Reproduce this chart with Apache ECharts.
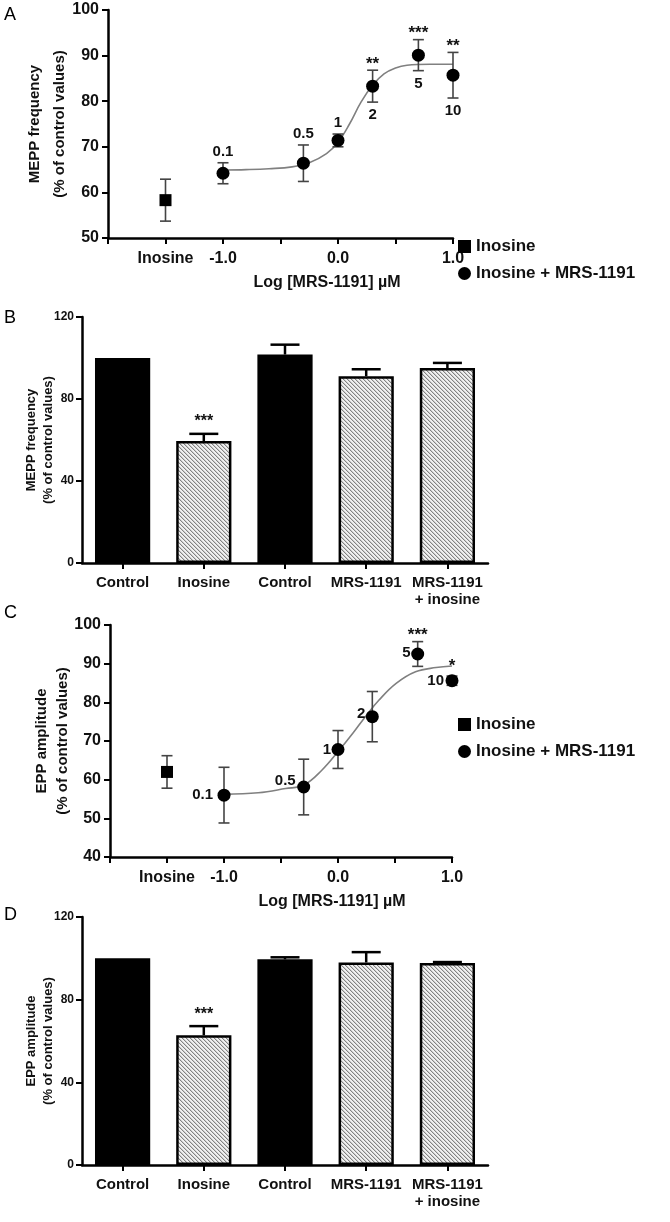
<!DOCTYPE html>
<html><head><meta charset="utf-8">
<script src="https://cdn.jsdelivr.net/npm/echarts@6/dist/echarts.min.js"></script>
<style>html,body{margin:0;padding:0;background:#fff}#c{width:670px;height:1222px}</style>
</head><body><div id="c"></div>
<script>
// ---------- DATA ----------
// Dose-response panels (A, C)
const doseLabels = ['0.1', '0.5', '1', '2', '5', '10'];
const logDoses = [-1.0, -0.301, 0.0, 0.301, 0.699, 1.0];
const inosineX = -1.5;
const xTickValues = [-1.5, -1.0, 0.0, 1.0];
const xTickLabels = ['Inosine', '-1.0', '0.0', '1.0'];

// Panel A: MEPP frequency
const meppInosine = [58.3];
const meppInosineErr = [4.6];
const meppMRS = [64.2, 66.4, 71.4, 83.3, 90.1, 85.7];
const meppMRSErr = [2.3, 4.0, 1.4, 3.5, 3.4, 5.0];
const meppSig = ['', '', '', '**', '***', '**'];
const meppCurveX = [-1.0, -0.8, -0.6, -0.4, -0.25, -0.1, 0.0, 0.1, 0.2, 0.3, 0.4, 0.5, 0.6, 0.8, 1.0];
const meppCurveY = [64.9, 65.0, 65.2, 65.6, 66.5, 68.5, 71.0, 75.0, 79.8, 83.5, 86.0, 87.3, 87.9, 88.1, 88.1];

// Panel C: EPP amplitude
const eppInosine = [62.0];
const eppInosineErr = [4.2];
const eppMRS = [56.0, 58.1, 67.8, 76.3, 92.5, 85.6];
const eppMRSErr = [7.2, 7.2, 4.9, 6.5, 3.2, 1.2];
const eppSig = ['', '', '', '', '***', '*'];
const eppCurveX = [-1.0, -0.7, -0.46, -0.3, -0.14, 0.01, 0.13, 0.24, 0.36, 0.51, 0.68, 0.86, 1.0];
const eppCurveY = [56.2, 56.6, 57.7, 58.6, 62.5, 67.6, 72.0, 76.3, 80.6, 84.9, 87.9, 89.0, 89.4];

// Bar panels (B, D)
const barCategories = ['Control', 'Inosine', 'Control', 'MRS-1191', 'MRS-1191\n+ inosine'];
const barHatched = [false, true, false, true, true];
const meppBars = [100, 59.5, 101.7, 91.1, 95.1];
const meppBarsErr = [0, 3.5, 4.8, 3.4, 2.5];
const meppBarSig = ['', '***', '', '', ''];
const eppBars = [100, 62.8, 99.5, 98.0, 97.7];
const eppBarsErr = [0, 4.4, 1.0, 5.0, 0.5];
const eppBarSig = ['', '***', '', '', ''];

// ---------- STYLE HELPERS ----------
const FONT = '"Liberation Sans", Arial, Helvetica, sans-serif';

function makeHatch() {
  const s = 4;
  const cv = document.createElement('canvas');
  cv.width = s; cv.height = s;
  const ctx = cv.getContext('2d');
  const img = ctx.createImageData(s, s);
  for (let j = 0; j < s; j++) for (let i = 0; i < s; i++) {
    const k = (j * s + i) * 4;
    const dark = ((i - j + s) % s) === 0;
    const soft = ((i - j + s) % s) === 1;
    const v = dark ? 130 : (soft ? 205 : 240);
    img.data[k] = v; img.data[k + 1] = v; img.data[k + 2] = v; img.data[k + 3] = 255;
  }
  ctx.putImageData(img, 0, 0);
  return cv;
}
const hatch = { image: makeHatch(), repeat: 'repeat' };

function errSeries(xi, yi, data, opts) {
  return {
    type: 'custom', xAxisIndex: xi, yAxisIndex: yi, z: opts.z || 3, silent: true,
    data: data,
    renderItem: function (params, api) {
      const x = api.value(0), y = api.value(1), e = api.value(2);
      if (!e) return null;
      const top = api.coord([x, y + e]);
      const mid = api.coord([x, y]);
      const bot = api.coord([x, y - e]);
      const h = opts.cap / 2;
      const st = { stroke: opts.color, lineWidth: opts.lw };
      const ch = [
        { type: 'line', shape: { x1: top[0], y1: top[1], x2: top[0], y2: opts.both ? bot[1] : mid[1] }, style: st },
        { type: 'line', shape: { x1: top[0] - h, y1: top[1], x2: top[0] + h, y2: top[1] }, style: st }
      ];
      if (opts.both) ch.push({ type: 'line', shape: { x1: bot[0] - h, y1: bot[1], x2: bot[0] + h, y2: bot[1] }, style: st });
      return { type: 'group', children: ch };
    }
  };
}

function textSeries(xi, yi, items) {
  return {
    type: 'custom', xAxisIndex: xi, yAxisIndex: yi, z: 5, silent: true,
    data: items.map(it => [it.x, it.y]),
    renderItem: function (params, api) {
      const it = items[params.dataIndex];
      const p = api.coord([api.value(0), api.value(1)]);
      return {
        type: 'text', x: p[0] + (it.dx || 0), y: p[1] + (it.dy || 0),
        style: { text: it.text, align: it.align || 'center', verticalAlign: 'middle',
                 font: (it.weight || 'bold') + ' ' + (it.size || 14) + 'px ' + FONT, fill: '#111' }
      };
    }
  };
}

// annotation placement for panel A (above/below error bars)
const aDosePlace = ['above', 'above', 'above', 'below', 'below', 'below'];
const annA = [];
logDoses.forEach((x, i) => {
  const y = meppMRS[i], e = meppMRSErr[i];
  if (aDosePlace[i] === 'above') annA.push({ x: x, y: y + e, dy: -11, text: doseLabels[i], size: 15 });
  else annA.push({ x: x, y: y - e, dy: 13, text: doseLabels[i], size: 15 });
  if (meppSig[i]) annA.push({ x: x, y: y + e, dy: -6, text: meppSig[i], size: 17 });
});

// panel C: dose labels left of points
const cDoseOff = [[-11, 0], [-8, -6], [-7, 0], [-7, -3], [-7, -1], [-8, 0]];
const annC = [];
logDoses.forEach((x, i) => {
  const y = eppMRS[i], e = eppMRSErr[i];
  annC.push({ x: x, y: y, dx: cDoseOff[i][0], dy: cDoseOff[i][1], text: doseLabels[i], align: 'right', size: 15 });
  if (eppSig[i]) annC.push({ x: x, y: y + e, dy: i === 5 ? -10 : -6, text: eppSig[i], size: 17 });
});

function sigItems(vals, errs, sig) {
  const out = [];
  sig.forEach((s, i) => { if (s) out.push({ x: i, y: vals[i] + errs[i], dy: -12, text: s, size: 16 }); });
  return out;
}

// ---------- AXES ----------
const axLine = { show: true, onZero: false, lineStyle: { color: '#000', width: 2.5 } };
const axTick = { show: true, inside: false, length: 6, lineStyle: { color: '#000', width: 2 } };

function doseXAxis(gi) {
  return {
    gridIndex: gi, type: 'value', min: -2, max: 1, interval: 0.5,
    axisLine: axLine, axisTick: axTick, splitLine: { show: false },
    axisLabel: {
      margin: 13, color: '#111', fontFamily: FONT, fontWeight: 'bold', fontSize: 16,
      formatter: function (v) {
        const k = xTickValues.findIndex(t => Math.abs(t - v) < 1e-6);
        return k >= 0 ? xTickLabels[k] : '';
      }
    }
  };
}
function valYAxis(gi, min, max, interval, name, fs, nameGap, lh, labelFs, labelMargin) {
  return {
    gridIndex: gi, type: 'value', min: min, max: max, interval: interval,
    axisLine: axLine, axisTick: axTick, splitLine: { show: false },
    axisLabel: { margin: labelMargin, color: '#111', fontFamily: FONT, fontWeight: 'bold', fontSize: labelFs },
    name: name, nameLocation: 'middle', nameRotate: 90, nameGap: nameGap, nameMoveOverlap: false,
    nameTextStyle: { color: '#111', fontFamily: FONT, fontWeight: 'bold', fontSize: fs, lineHeight: lh }
  };
}
function catXAxis(gi) {
  return {
    gridIndex: gi, type: 'category', data: barCategories,
    axisLine: axLine, axisTick: Object.assign({ alignWithLabel: true }, axTick), splitLine: { show: false },
    axisLabel: { margin: 11, color: '#111', fontFamily: FONT, fontWeight: 'bold', fontSize: 15, lineHeight: 17, interval: 0 }
  };
}

function barSeries(xi, yi, vals) {
  return {
    type: 'bar', xAxisIndex: xi, yAxisIndex: yi, barWidth: '68%', z: 2, silent: true,
    data: vals.map((v, i) => ({
      value: v,
      itemStyle: { color: barHatched[i] ? hatch : '#000', borderColor: '#000', borderWidth: 2.5 }
    }))
  };
}

const legendTextStyle = { color: '#111', fontFamily: FONT, fontWeight: 'bold', fontSize: 17 };
function legendAt(top) {
  return {
    left: 453, top: top, orient: 'vertical', itemGap: 10, itemWidth: 13, itemHeight: 13,
    selectedMode: false, textStyle: legendTextStyle, itemStyle: { borderWidth: 0, opacity: 1, color: '#000' },
    data: [{ name: 'Inosine', icon: 'rect' }, { name: 'Inosine + MRS-1191', icon: 'circle' }]
  };
}

const pointStyle = { color: '#000', opacity: 1 };

const option = {
  animation: false,
  backgroundColor: '#fff',
  grid: [
    { left: 108, top: 10, width: 345, height: 228, outerBoundsMode: 'none' },
    { left: 82, top: 317, width: 406, height: 246, outerBoundsMode: 'none' },
    { left: 110, top: 625, width: 342, height: 232, outerBoundsMode: 'none' },
    { left: 82, top: 917, width: 406, height: 248, outerBoundsMode: 'none' }
  ],
  xAxis: [doseXAxis(0), catXAxis(1), doseXAxis(2), catXAxis(3)],
  yAxis: [
    valYAxis(0, 50, 100, 10, 'MEPP frequency\n(% of control values)', 15, 36, 25, 16, 9),
    valYAxis(1, 0, 120, 40, 'MEPP frequency\n(% of control values)', 13, 25, 17, 12, 8),
    valYAxis(2, 40, 100, 10, 'EPP amplitude\n(% of control values)', 15, 37, 21, 16, 9),
    valYAxis(3, 0, 120, 40, 'EPP amplitude\n(% of control values)', 13, 25, 17, 12, 8)
  ],
  legend: [legendAt(233), legendAt(711)],
  graphic: [
    { type: 'text', left: 4, top: 6, style: { text: 'A', font: '18px ' + FONT, fill: '#000' } },
    { type: 'text', left: 4, top: 309, style: { text: 'B', font: '18px ' + FONT, fill: '#000' } },
    { type: 'text', left: 4, top: 604, style: { text: 'C', font: '18px ' + FONT, fill: '#000' } },
    { type: 'text', left: 4, top: 906, style: { text: 'D', font: '18px ' + FONT, fill: '#000' } },
    { type: 'text', x: 327, y: 283, style: { text: 'Log [MRS-1191] \u00b5M', align: 'center', verticalAlign: 'middle', font: 'bold 16px ' + FONT, fill: '#111' } },
    { type: 'text', x: 332, y: 902, style: { text: 'Log [MRS-1191] \u00b5M', align: 'center', verticalAlign: 'middle', font: 'bold 16px ' + FONT, fill: '#111' } }
  ],
  series: [
    // Panel A
    { type: 'line', xAxisIndex: 0, yAxisIndex: 0, data: meppCurveX.map((x, i) => [x, meppCurveY[i]]), smooth: 0.4, showSymbol: false, silent: true, lineStyle: { color: '#808080', width: 1.6 }, z: 1 },
    errSeries(0, 0, [[inosineX, meppInosine[0], meppInosineErr[0]]].concat(logDoses.map((x, i) => [x, meppMRS[i], meppMRSErr[i]])), { cap: 11, both: true, color: '#444', lw: 1.6 }),
    { name: 'Inosine', type: 'scatter', xAxisIndex: 0, yAxisIndex: 0, symbol: 'rect', symbolSize: 12, itemStyle: pointStyle, data: [[inosineX, meppInosine[0]]], z: 4 },
    { name: 'Inosine + MRS-1191', type: 'scatter', xAxisIndex: 0, yAxisIndex: 0, symbol: 'circle', symbolSize: 13, itemStyle: pointStyle, data: logDoses.map((x, i) => [x, meppMRS[i]]), z: 4 },
    textSeries(0, 0, annA),
    // Panel B
    barSeries(1, 1, meppBars),
    errSeries(1, 1, meppBars.map((v, i) => [i, v, meppBarsErr[i]]), { cap: 29, both: false, color: '#000', lw: 2.5 }),
    textSeries(1, 1, sigItems(meppBars, meppBarsErr, meppBarSig)),
    // Panel C
    { type: 'line', xAxisIndex: 2, yAxisIndex: 2, data: eppCurveX.map((x, i) => [x, eppCurveY[i]]), smooth: 0.4, showSymbol: false, silent: true, lineStyle: { color: '#808080', width: 1.6 }, z: 1 },
    errSeries(2, 2, [[inosineX, eppInosine[0], eppInosineErr[0]]].concat(logDoses.map((x, i) => [x, eppMRS[i], eppMRSErr[i]])), { cap: 11, both: true, color: '#444', lw: 1.6 }),
    { name: 'Inosine', type: 'scatter', xAxisIndex: 2, yAxisIndex: 2, symbol: 'rect', symbolSize: 12, itemStyle: pointStyle, data: [[inosineX, eppInosine[0]]], z: 4 },
    { name: 'Inosine + MRS-1191', type: 'scatter', xAxisIndex: 2, yAxisIndex: 2, symbol: 'circle', symbolSize: 13, itemStyle: pointStyle, data: logDoses.map((x, i) => [x, eppMRS[i]]), z: 4 },
    textSeries(2, 2, annC),
    // Panel D
    barSeries(3, 3, eppBars),
    errSeries(3, 3, eppBars.map((v, i) => [i, v, eppBarsErr[i]]), { cap: 29, both: false, color: '#000', lw: 2.5 }),
    textSeries(3, 3, sigItems(eppBars, eppBarsErr, eppBarSig))
  ]
};

const chart = echarts.init(document.getElementById('c'), null, { renderer: 'canvas' });
chart.setOption(option);
</script>
</body></html>
